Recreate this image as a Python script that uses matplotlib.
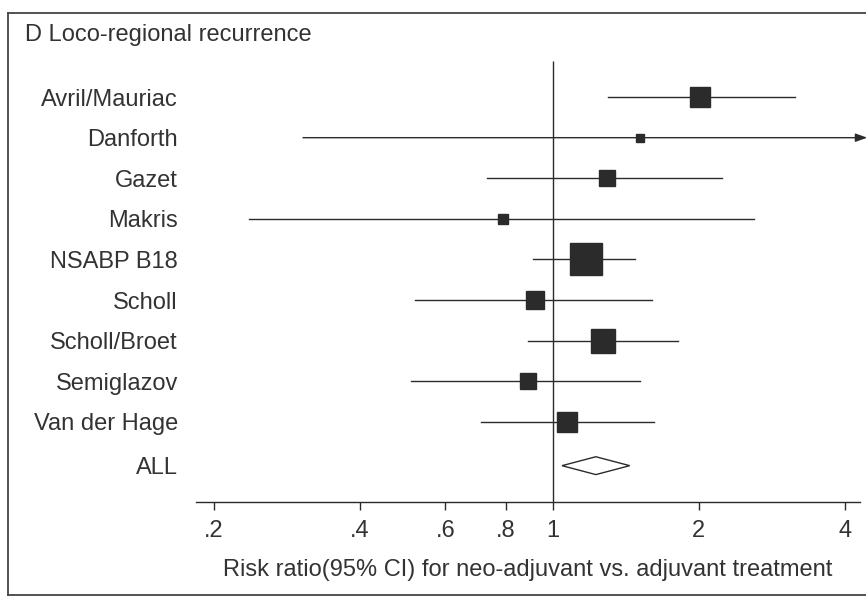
import numpy as np
import matplotlib
matplotlib.use("Agg")
import matplotlib.pyplot as plt
from matplotlib.lines import Line2D
from matplotlib.patches import Polygon

plt.rcParams['font.family'] = ['Liberation Sans', 'DejaVu Sans']

# study data (risk ratio with 95% CI, weight in %)
studies = ["Avril/Mauriac", "Danforth", "Gazet", "Makris", "NSABP B18",
           "Scholl", "Scholl/Broet", "Semiglazov", "Van der Hage"]
rr = [2.01, 1.51, 1.29, 0.79, 1.17, 0.92, 1.27, 0.89, 1.07]
lower = [1.30, 0.305, 0.73, 0.236, 0.91, 0.52, 0.89, 0.51, 0.71]
upper = [3.16, 6.0, 2.23, 2.60, 1.48, 1.60, 1.81, 1.51, 1.62]
weight = [10.6, 1.9, 7.5, 2.9, 31.9, 8.5, 18.3, 6.6, 11.7]

pooled = 1.226
pooled_lo = 1.044
pooled_hi = 1.44

tick_vals = [0.2, 0.4, 0.6, 0.8, 1, 2, 4]
tick_labels = [".2", ".4", ".6", ".8", "1", "2", "4"]

ink = "#2b2b2b"
txt = "#333333"
fs = 17
W, H = 866, 597
fig = plt.figure(figsize=(W / 100, H / 100), dpi=100)
ax = fig.add_axes([196 / W, 95 / H, (860 - 196) / W, (547 - 95) / H])
ax.set_xscale("log")
xmin, xmax = 0.1835, 4.30
ax.set_xlim(xmin, xmax)
ax.set_ylim(9.975, -1.16)

n = len(studies)
ys = np.arange(n)
for i in range(n):
    hi = upper[i]
    if hi > xmax:
        ax.annotate("", xy=(4.45, ys[i]), xytext=(lower[i], ys[i]),
                    xycoords="data", annotation_clip=False,
                    arrowprops=dict(arrowstyle="-|>,head_length=0.7,head_width=0.25",
                                    color=ink, lw=1.0, shrinkA=0, shrinkB=0))
    else:
        ax.plot([lower[i], hi], [ys[i], ys[i]], color=ink, lw=1.0, clip_on=False)
    side = 5.84 * np.sqrt(weight[i]) * 0.72
    ax.plot(rr[i], ys[i], marker="s", ms=side, color=ink, mec=ink, zorder=3)

# pooled estimate diamond
y_all = n + 0.08
h = 0.22
diamond = Polygon([(pooled_lo, y_all), (pooled, y_all - h), (pooled_hi, y_all), (pooled, y_all + h)],
                  closed=True, facecolor="white", edgecolor=ink, lw=1.0, zorder=3)
ax.add_patch(diamond)

ax.vlines(1, -0.89, 9.975, color=ink, lw=1.0)

ax.set_yticks(list(ys) + [y_all])
ax.set_yticklabels(studies + ["ALL"], fontsize=fs, color=txt)
ax.tick_params(axis="y", length=0, pad=13)

ax.set_xticks(tick_vals)
ax.set_xticklabels(tick_labels, fontsize=fs, color=txt)
ax.xaxis.set_minor_locator(matplotlib.ticker.NullLocator())
ax.tick_params(axis="x", direction="out", length=6, width=1.0, color=ink, pad=7)
ax.set_xlabel("Risk ratio(95% CI) for neo-adjuvant vs. adjuvant treatment",
              fontsize=fs, color=txt, labelpad=12)

for s in ["top", "right", "left"]:
    ax.spines[s].set_visible(False)
ax.spines["bottom"].set_color(ink)
ax.spines["bottom"].set_linewidth(1.0)

fig.text(25 / W, 1 - 35 / H, "D Loco-regional recurrence", fontsize=fs,
         color=txt, va="center", ha="left")

# outer frame (left, top, bottom)
x0 = 8 / W
yt = 1 - 13 / H
yb = 1 - 595 / H
for xs, yy in [([x0, x0], [yb, yt]), ([x0, 1], [yt, yt]), ([x0, 1], [yb, yb])]:
    fig.add_artist(Line2D(xs, yy, color="#444444", lw=1.3, transform=fig.transFigure))

fig.savefig("out.png", dpi=100)
